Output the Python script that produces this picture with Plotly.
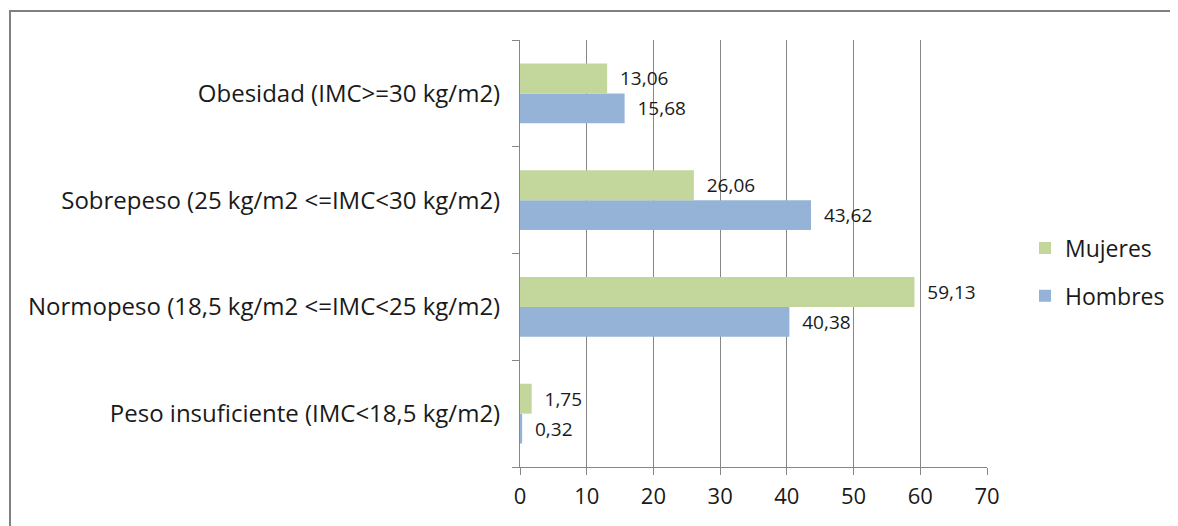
import plotly.graph_objects as go

categories = [
    "Peso insuficiente (IMC<18,5 kg/m2)",
    "Normopeso (18,5 kg/m2 <=IMC<25 kg/m2)",
    "Sobrepeso (25 kg/m2 <=IMC<30 kg/m2)",
    "Obesidad (IMC>=30 kg/m2)",
]
mujeres = [1.75, 59.13, 26.06, 13.06]
hombres = [0.32, 40.38, 43.62, 15.68]
x_ticks = [0, 10, 20, 30, 40, 50, 60, 70]

FONT = "Open Sans"
GRID = "#878787"
TXT = "#1a1a1a"
W, H = 1178, 526
ML, MR, MT, MB = 512, 199, 32, 67
pw = W - ML - MR
ph = H - MT - MB

def lab(vals):
    return ["\u00a0\u00a0" + f"{v:.2f}".replace(".", ",") for v in vals]

fig = go.Figure()
fig.add_trace(go.Bar(
    y=categories, x=hombres, name="Hombres", orientation="h",
    marker=dict(color="#95B3D7", line=dict(width=0)),
    text=lab(hombres), textposition="outside", cliponaxis=False,
    textfont=dict(family=FONT, size=19, color=TXT),
    legendgroup="h", legendrank=2,
))
fig.add_trace(go.Bar(
    y=categories, x=mujeres, name="Mujeres", orientation="h",
    marker=dict(color="#C3D69B", line=dict(width=0)),
    text=lab(mujeres), textposition="outside", cliponaxis=False,
    textfont=dict(family=FONT, size=19, color=TXT),
    legendgroup="m", legendrank=1,
))

def px_x(px):
    return (px - ML) / pw

def px_y(py):
    return (H - MB - py) / ph

fig.update_layout(
    width=W, height=H,
    margin=dict(l=ML, r=MR, t=MT, b=MB, autoexpand=False),
    paper_bgcolor="white", plot_bgcolor="white",
    barmode="group", bargap=0.44, bargroupgap=0,
    font=dict(family=FONT, size=24, color=TXT),
    showlegend=True,
    legend=dict(
        x=px_x(1017), y=px_y(264), xanchor="left", yanchor="middle",
        traceorder="grouped", tracegroupgap=15,
        font=dict(family=FONT, size=23, color=TXT),
        itemwidth=30,
    ),
    xaxis=dict(
        range=[0, 70], tickvals=x_ticks, showgrid=True, gridcolor=GRID, gridwidth=1,
        zeroline=False, showline=True, linecolor=GRID, linewidth=1,
        ticks="outside", ticklen=7, tickcolor=GRID,
        tickfont=dict(family=FONT, size=22, color=TXT),
        ticklabelstandoff=3, fixedrange=True,
    ),
    yaxis=dict(
        categoryorder="array", categoryarray=categories,
        showline=True, linecolor=GRID, linewidth=1,
        ticks="outside", ticklen=7, tickcolor=GRID, tickson="boundaries",
        tickfont=dict(family=FONT, size=24, color=TXT),
        ticklabelstandoff=14, showgrid=False, fixedrange=True,
    ),
    shapes=[dict(
        type="rect", xref="paper", yref="paper",
        x0=px_x(2), x1=px_x(1200), y0=px_y(560), y1=px_y(3),
        line=dict(color="#808080", width=2), layer="below",
    )],
)

fig.write_html("out.html")
